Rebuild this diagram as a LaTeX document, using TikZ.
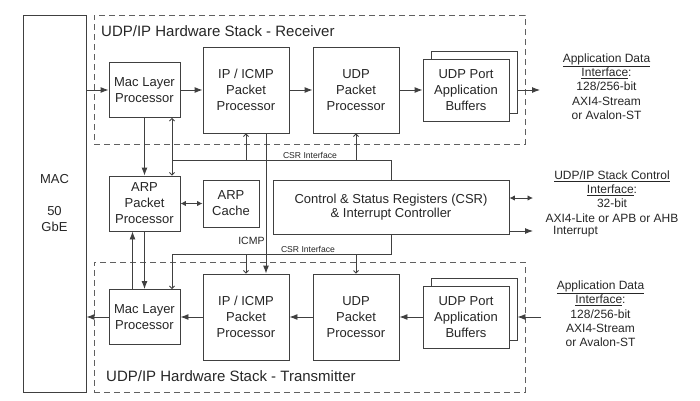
\documentclass[tikz,border=0pt]{standalone}
\usepackage{fontspec}
\setmainfont{Liberation Sans}
\usepackage{tikz}
\usetikzlibrary{arrows.meta, positioning}
\definecolor{linegray}{HTML}{404040}
\definecolor{dashgray}{HTML}{606060}
\tikzstyle{arrow}    = [draw=linegray, line width=0.9pt, -{Latex[length=8pt,width=6pt]}]
\tikzstyle{dblarrow} = [draw=linegray, line width=0.9pt, {Latex[length=5.5pt,width=5.5pt]}-{Latex[length=5.5pt,width=5.5pt]}]
\tikzstyle{csrarrow} = [draw=linegray, line width=0.8pt, -{Straight Barb[length=2.5pt,width=5pt]}]
\tikzstyle{csrline}  = [draw=linegray, line width=0.8pt]
\tikzstyle{block}    = [rectangle, draw=linegray, line width=0.9pt, fill=white, inner sep=0pt, font=\fontsize{13}{16}\selectfont]
\tikzstyle{stack}    = [rectangle, draw=dashgray, line width=0.9pt, dash pattern=on 6pt off 4pt, inner sep=0pt]
\tikzstyle{title}    = [anchor=west, inner sep=0pt, font=\fontsize{15}{18}\selectfont]
\tikzstyle{note}     = [inner sep=0pt, font=\fontsize{12}{14.3}\selectfont]
\tikzstyle{tiny}     = [inner sep=0pt, font=\fontsize{8.6}{10}\selectfont]
\tikzset{every node/.style={align=center, text=black!85}}

\begin{document}
\begin{tikzpicture}[x=1pt, y=-1pt]
    \useasboundingbox (0,0) rectangle (700,400);

    \node (rxstack) at (309.5,79.5) [stack, minimum width=431pt, minimum height=129pt] {};
    \node (txstack) at (309.5,327)  [stack, minimum width=431pt, minimum height=130pt] {};
    \node (rxtitle) at (101,31)  [title] {UDP/IP Hardware Stack - Receiver};
    \node (txtitle) at (106,376) [title] {UDP/IP Hardware Stack - Transmitter};

    \node (mac)    at (54.5,203.5) [block, minimum width=63pt, minimum height=377pt] {MAC\\[16pt]50\\GbE};

    \node (macrx)  at (144.5,90)   [block, minimum width=71pt, minimum height=55pt] {Mac Layer\\Processor};
    \node (iprx)   at (246,90)     [block, minimum width=86pt, minimum height=86pt] {IP / ICMP\\Packet\\Processor};
    \node (udprx)  at (356,90)     [block, minimum width=86pt, minimum height=86pt] {UDP\\Packet\\Processor};
    \node (bufrxb) at (474,82)     [block, minimum width=86pt, minimum height=62pt] {};
    \node (bufrx)  at (466,90)     [block, minimum width=86pt, minimum height=62pt] {UDP Port\\Application\\Buffers};

    \node (arp)    at (144.5,203.5) [block, minimum width=71pt, minimum height=55pt] {ARP\\Packet\\Processor};
    \node (cache)  at (231,203.5)   [block, minimum width=56pt, minimum height=47pt] {ARP\\Cache};
    \node (csr)    at (391,207)     [block, minimum width=236pt, minimum height=54pt, font=\fontsize{13}{14.5}\selectfont] {Control \& Status Registers (CSR)\\\& Interrupt Controller};

    \node (mactx)  at (144.5,317)  [block, minimum width=71pt, minimum height=55pt] {Mac Layer\\Processor};
    \node (iptx)   at (246,317)    [block, minimum width=86pt, minimum height=86pt] {IP / ICMP\\Packet\\Processor};
    \node (udptx)  at (356,317)    [block, minimum width=86pt, minimum height=86pt] {UDP\\Packet\\Processor};
    \node (buftxb) at (474,309)    [block, minimum width=86pt, minimum height=62pt] {};
    \node (buftx)  at (466,317)    [block, minimum width=86pt, minimum height=62pt] {UDP Port\\Application\\Buffers};

    \node (rxapp)  at (606.5,86.5) [note] {\underline{Application Data}\\\underline{Interface}:\\128/256-bit\\AXI4-Stream\\or Avalon-ST};
    \node (ctlapp) at (612,196.5)  [note] {\underline{UDP/IP Stack Control}\\\underline{Interface}:\\32-bit\\AXI4-Lite or APB or AHB};
    \node (irq)    at (553,232)    [note, anchor=west] {Interrupt};
    \node (txapp)  at (600.5,314)  [note] {\underline{Application Data}\\\underline{Interface}:\\128/256-bit\\AXI4-Stream\\or Avalon-ST};

    \node (csrlblrx) at (310,155) [tiny] {CSR Interface};
    \node (csrlbltx) at (308,249) [tiny] {CSR Interface};

    \coordinate (rxout)  at (540,90);
    \coordinate (txin)   at (541,317);
    \coordinate (ctlio)  at (533,198);
    \coordinate (irqout) at (533,231);
    \coordinate (csrtop) at (172,160);
    \coordinate (csrbot) at (172,254);

    \draw [arrow] (mac.east |- macrx.west) -- (macrx.west);
    \draw [arrow] (macrx) -- (iprx);
    \draw [arrow] (iprx)  -- (udprx);
    \draw [arrow] (udprx) -- (bufrx);
    \draw [arrow] (bufrxb.east |- bufrx.east) -- (rxout);

    \draw [arrow] (txin)  -- (buftxb.east |- buftx.east);
    \draw [arrow] (buftx) -- (udptx);
    \draw [arrow] (udptx) -- (iptx);
    \draw [arrow] (iptx)  -- (mactx);
    \draw [arrow] (mactx.west) -- (mactx.west -| mac.east);

    \draw [arrow] (macrx) -- (arp);
    \draw [arrow] ([xshift=-12pt]mactx.north) -- ([xshift=-12pt]arp.south);
    \draw [arrow] (arp) -- (mactx);
    \draw [dblarrow] (arp) -- (cache);
    \draw [arrow] ([xshift=20pt]iprx.south) -- ([xshift=20pt]iptx.north)
        node [pos=0.77, left, inner sep=1pt, font=\fontsize{10.5}{12}\selectfont] {ICMP};

    \draw [dblarrow] ([yshift=9pt]csr.east) -- (ctlio);
    \draw [arrow] ([yshift=-24pt]csr.east) -- (irqout);

    \draw [csrline]  (csr.north) |- (csrtop);
    \draw [csrarrow] (csrtop) -- (csrtop |- macrx.south);
    \draw [csrarrow] (csrtop) -- (csrtop |- arp.north);
    \draw [csrarrow] (iprx.south |- csrtop) -- (iprx.south);
    \draw [csrarrow] (udprx.south |- csrtop) -- (udprx.south);

    \draw [csrline]  (csr.south) |- (csrbot);
    \draw [csrarrow] (csrbot) -- (csrbot |- mactx.north);
    \draw [csrarrow] (iptx.north |- csrbot) -- (iptx.north);
    \draw [csrarrow] (udptx.north |- csrbot) -- (udptx.north);
\end{tikzpicture}
\end{document}
